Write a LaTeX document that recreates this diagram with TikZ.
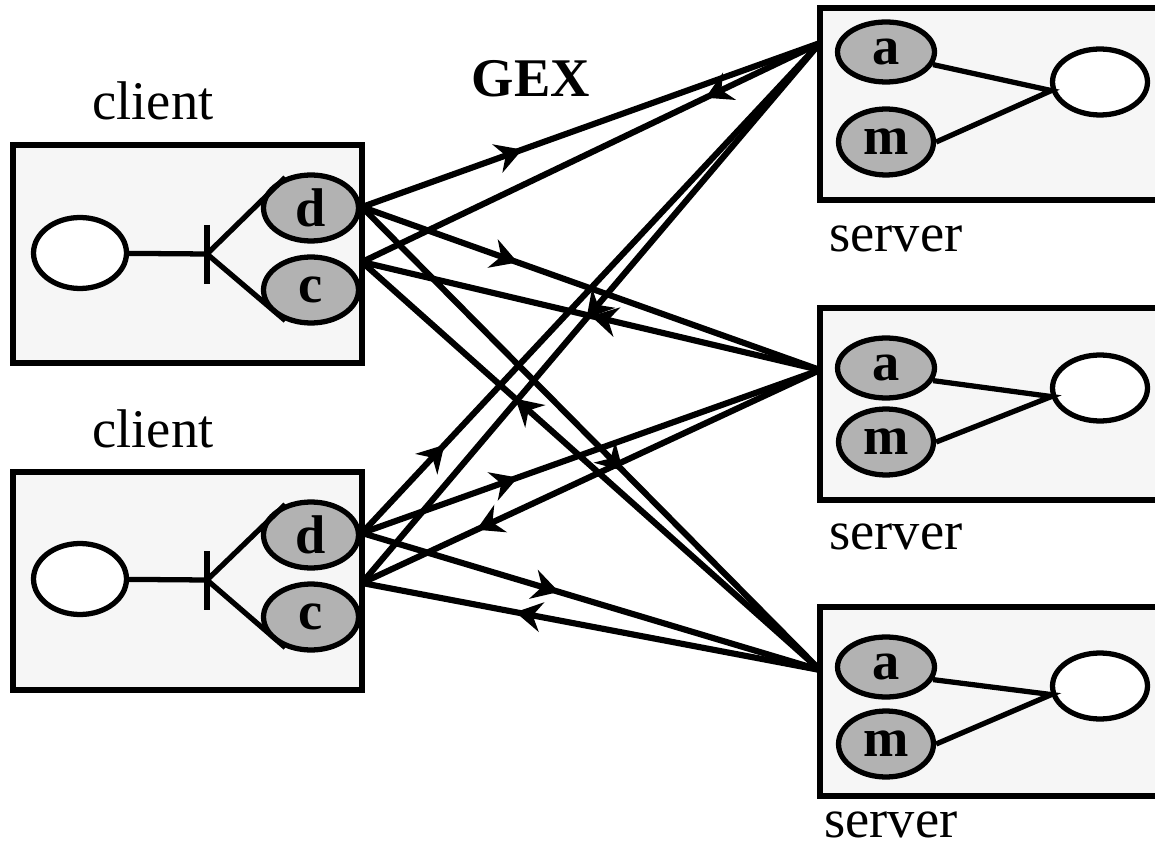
\documentclass[tikz,border=0pt]{standalone}
\usepackage{fontspec}
\setmainfont{Liberation Serif}
\usetikzlibrary{shapes,arrows.meta,decorations.markings}
\definecolor{boxgray}{gray}{0.965}
\definecolor{ballgray}{gray}{0.7}

\begin{document}
\begin{tikzpicture}[x=0.02cm, y=-0.02cm]
\tikzstyle{box}=[draw, line width=3.6pt, fill=boxgray]
\tikzstyle{ball}=[draw, ellipse, line width=3pt, fill=ballgray, inner sep=0pt, minimum width=1.9cm, minimum height=1.32cm, font=\fontsize{31}{31}\selectfont\bfseries]
\tikzstyle{hole}=[ball, fill=white]
\tikzstyle{lbl}=[anchor=base, font=\fontsize{31}{31}\selectfont]
\tikzstyle{wire}=[line width=3pt]
\tikzstyle{link}=[line width=3.5pt]
\tikzset{fwd/.style={link, postaction={decorate, decoration={markings, mark=at position #1 with {\arrow{Stealth[length=15pt,width=17pt,inset=5pt]}}}}}}

\useasboundingbox (0,0) rectangle (1155,847);

% clients
\draw[box] (13,145) rectangle (362,363);
\draw[box] (13,472) rectangle (362,690);
\node[lbl] (cl1) at (153,120) {client};
\node[lbl] (cl2) at (153,447) {client};

\node[hole, minimum width=1.86cm, minimum height=1.42cm] (e1) at (80,253) {};
\node[ball] (d1) at (311,208) {d};
\node[ball] (c1) at (311,290) {c};
\coordinate (t1) at (207,254);
\draw[wire] (e1) -- (t1);
\draw[wire] (t1) ++(0,-29) -- ++(0,59);
\draw[wire] (d1.130) -- (t1) -- (c1.230);

\node[hole, minimum width=1.86cm, minimum height=1.42cm] (e2) at (80,579) {};
\node[ball] (d2) at (311,535) {d};
\node[ball] (c2) at (311,617) {c};
\coordinate (t2) at (207,580);
\draw[wire] (e2) -- (t2);
\draw[wire] (t2) ++(0,-29) -- ++(0,59);
\draw[wire] (d2.130) -- (t2) -- (c2.230);

% servers
\draw[box] (820,8) rectangle (1170,200);
\draw[box] (820,308) rectangle (1170,500);
\draw[box] (820,607) rectangle (1170,796);
\node[lbl] (sv1) at (896,252) {server};
\node[lbl] (sv2) at (896,549) {server};
\node[lbl] (sv3) at (891,837) {server};

\node[ball, minimum width=1.94cm, minimum height=1.2cm] (a1) at (886,52) {a};
\node[ball] (m1) at (886,142) {m};
\node[hole] (w1) at (1100,82) {};
\draw[wire] (a1.-15) -- (w1.190) -- (m1.east);

\node[ball, minimum width=1.94cm, minimum height=1.2cm] (a2) at (886,368) {a};
\node[ball] (m2) at (886,442) {m};
\node[hole] (w2) at (1100,388) {};
\draw[wire] (a2.-15) -- (w2.190) -- (m2.east);

\node[ball, minimum width=1.94cm, minimum height=1.2cm] (a3) at (886,667) {a};
\node[ball] (m3) at (886,744) {m};
\node[hole] (w3) at (1100,686) {};
\draw[wire] (a3.-15) -- (w3.190) -- (m3.east);

\node[lbl, font=\fontsize{31}{31}\selectfont\bfseries] (gex) at (531,97) {GEX};

% ports
\coordinate (d1o) at (362,207);
\coordinate (c1i) at (362,262);
\coordinate (d2o) at (362,533);
\coordinate (c2i) at (362,583);
\coordinate (s1p) at (820,43);
\coordinate (s2p) at (820,370);
\coordinate (s3p) at (820,670);

% requests
\foreach \from/\to/\pos in {d1o/s1p/0.35, d1o/s2p/0.34, d1o/s3p/0.57,
    d2o/s1p/0.18, d2o/s2p/0.34, d2o/s3p/0.43}
  \draw[fwd=\pos] (\from) -- (\to);
% replies
\foreach \from/\to/\pos in {s1p/c1i/0.25, s2p/c1i/0.5, s3p/c1i/0.665,
    s1p/c2i/0.51, s2p/c2i/0.75, s3p/c2i/0.665}
  \draw[fwd=\pos] (\from) -- (\to);
\end{tikzpicture}
\end{document}
